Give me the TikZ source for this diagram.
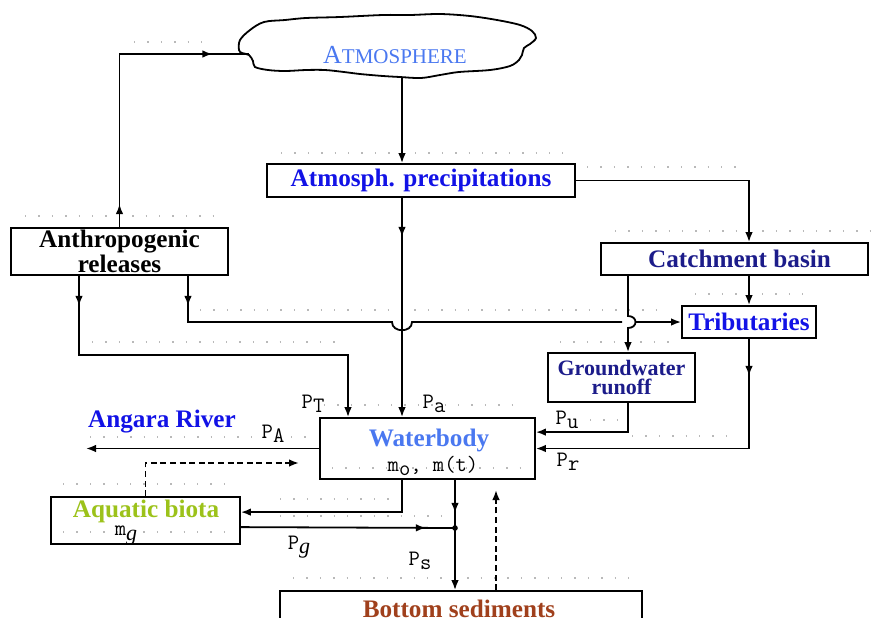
\documentclass[tikz,border=0pt]{standalone}
\usepackage{fontspec}
\setmainfont{Liberation Serif}
\usetikzlibrary{arrows.meta,calc,decorations.markings}

\definecolor{skyblue}{HTML}{4A78F0}
\definecolor{pureblue}{HTML}{1212E6}
\definecolor{navyblue}{HTML}{1C1C8A}
\definecolor{biogreen}{HTML}{9CC21A}
\definecolor{sedbrown}{HTML}{A0401C}

\newcommand{\flux}[1]{P\raisebox{-0.45ex}{#1}}

\tikzset{
    block/.style={rectangle, draw, line width=0.9pt, inner sep=0pt, align=center, font=\bfseries\fontsize{12.6}{8.7}\selectfont},
    lbl/.style={inner sep=0pt, font=\bfseries\fontsize{12.6}{8.7}\selectfont},
    flux/.style={inner sep=0pt, font=\ttfamily\fontsize{11}{11}\selectfont},
    flow/.style={line width=0.9pt},
    arrow/.style={flow, -{Latex[length=5pt,width=3.8pt]}},
    dashline/.style={dash pattern=on 3pt off 1.8pt},
    midarrow/.style={postaction={decorate, decoration={markings, mark=at position #1 with {\arrow{Latex[length=5pt,width=3.8pt]}}}}},
    guide/.style={gray!55, line width=0.7pt, dash pattern=on 0.7pt off 6pt}
}

\begin{document}
\begin{tikzpicture}[x=0.5pt, y=-0.5pt]
\useasboundingbox (0,0) rectangle (872,617);
\clip (0,0) rectangle (872,617);

% Dotted guide lines
\draw[guide] (134,42) -- (203,42);
\draw[guide] (281,153) -- (563,153);
\draw[guide] (587,167) -- (737,167);
\draw[guide] (25,216) -- (216,216);
\draw[guide] (615,231) -- (872,231);
\draw[guide] (695,294) -- (803,294);
\draw[guide] (200,310) -- (660,310);
\draw[guide] (92,342) -- (335,342);
\draw[guide] (560,342) -- (677,342);
\draw[guide] (324,405) -- (522,405);
\draw[guide] (590,420) -- (620,420);
\draw[guide] (632,436) -- (737,436);
\draw[guide] (90,437) -- (311,437);
\draw[guide] (332,468) -- (522,468);
\draw[guide] (63,484) -- (229,484);
\draw[guide] (280,499) -- (390,499);
\draw[guide] (280,516) -- (443,516);
\draw[guide] (63,532) -- (227,532);
\draw[guide] (293,578) -- (630,578);

% Atmosphere cloud
\draw[flow] plot[smooth cycle, tension=0.55] coordinates {
    (239,50) (240,40) (250,30) (264,22) (285,20) (306,18) (340,17) (383,15)
    (410,15) (440,14) (470,16) (497,20) (520,25) (532,31) (536,38) (530,44)
    (524,48) (522,55) (519,60) (510,66) (490,70) (459,72) (440,75) (421,78)
    (400,77) (383,76) (360,74) (344,72) (325,70) (306,70) (285,71) (268,70)
    (255,67) (253,61) (249,55) (242,53)};
\node[inner sep=0pt, text=skyblue] (atm) at (395,55) {\fontsize{13}{13}\selectfont A\fontsize{10.5}{10.5}\selectfont TMOSPHERE};
\coordinate (atmL) at (249,54);
\coordinate (atmB) at (402,77);

% Boxes
\node[block, text=pureblue, minimum width=154pt, minimum height=16.5pt] (precip) at (421,180.5) {Atmosph. precipitations};
\node[block, minimum width=108.5pt, minimum height=23.5pt] (anthro) at (119.5,251.5) {Anthropogenic\\releases};
\node[block, text=navyblue, minimum width=133.5pt, minimum height=16pt] (catch) at (734.5,259) {\hspace*{5pt}Catchment basin};
\node[block, text=pureblue, minimum width=67pt, minimum height=16pt] (trib) at (749,322) {Tributaries};
\node[block, text=navyblue, minimum width=73.5pt, minimum height=24.5pt, font=\bfseries\fontsize{11}{9.6}\selectfont] (ground) at (621.5,377.5) {Groundwater\\runoff};
\node[block, minimum width=107.5pt, minimum height=30.5pt] (water) at (427.5,448.5) {};
\node[lbl, text=skyblue] (waterlbl) at (429,440) {Waterbody};
\node[flux] (mass) at (433,466) {m\raisebox{-0.45ex}{o}, m(t)};
\node[block, minimum width=94.5pt, minimum height=23.5pt] (biota) at (145.5,520.5) {};
\node[lbl, text=biogreen] (biotalbl) at (146,511.5) {Aquatic biota};
\node[flux] (mg) at (126,535.5) {m\raisebox{-0.45ex}{\rmfamily\itshape g}};
\node[block, minimum width=181pt, minimum height=24pt] (sed) at (461,615) {};
\node[lbl, text=sedbrown] (sedlbl) at (459,609) {Bottom sediments};
\node[lbl, text=pureblue] (angara) at (162,422) {Angara River};

% Helper points
\coordinate (hopA) at (402,322);
\coordinate (hopB) at (628,322);
\coordinate (relL) at (79,355);
\coordinate (relR) at (188,322);
\coordinate (pT) at (348,355);
\coordinate (outA) at (86,449);
\coordinate (dashE) at (299,463);
\coordinate (jct) at (455,528);
\coordinate (upE) at (496,490);

% Connectors
\draw[flow, midarrow=11.5pt, midarrow=133pt] (anthro.north) |- (atmL);
\draw[arrow] (atmB) -- (atmB |- precip.north);
\draw[arrow] (precip.east) -| (trib.north |- catch.north);
\draw[arrow, midarrow=19.5pt] (atmB |- precip.south) -- (atmB |- water.north);
\draw[arrow] (trib.north |- catch.south) -- (trib.north);
\draw[arrow] (catch.south -| hopB) -- ([yshift=3pt]hopB)
    .. controls ([xshift=5pt,yshift=3pt]hopB) and ([xshift=5pt,yshift=-3pt]hopB) .. ([yshift=-3pt]hopB)
    -- (ground.north -| hopB);
\draw[flow, midarrow=15pt] (anthro.south -| relR) -- (relR) -- ([xshift=-5pt]hopA)
    .. controls ([xshift=-5pt,yshift=-5.5pt]hopA) and ([xshift=5pt,yshift=-5.5pt]hopA) .. ([xshift=5pt]hopA)
    -- ([xshift=-3pt]hopB);
\draw[arrow] ([xshift=4pt]hopB) -- (trib.west);
\draw[arrow, midarrow=15pt] (anthro.south -| relL) |- (pT) -- (pT |- water.north);
\draw[arrow] (ground.south -| hopB) |- ($(water.north east)+(0,15)$);
\draw[arrow, midarrow=18.5pt] (trib.south) |- (water.east);
\draw[arrow] (water.west) -- (water.west -| outA);
\draw[arrow, dashline] (biota.north) |- (dashE);
\draw[arrow] (water.south -| hopA) |- ($(biota.north east)+(0,16)$);
\draw[flow, midarrow=92.5pt] ($(biota.north east)+(0,31)$) -- (jct);
\draw[arrow, midarrow=16.5pt] (water.south -| jct) -- (sed.north -| jct);
\fill (jct) circle (1.4pt);
\draw[arrow, dashline] (sed.north -| upE) -- (upE);

% Flux labels
\node[flux] (fluxT) at (313,404) {\flux{T}};
\node[flux] (fluxa) at (434,404) {\flux{a}};
\node[flux] (fluxA) at (273,434) {\flux{A}};
\node[flux] (fluxu) at (567,420) {\flux{u}};
\node[flux] (fluxr) at (568,462) {\flux{r}};
\node[flux] (fluxg) at (299,547) {\flux{\rmfamily\itshape g}};
\node[flux] (fluxs) at (420,561) {\flux{s}};

\end{tikzpicture}
\end{document}
